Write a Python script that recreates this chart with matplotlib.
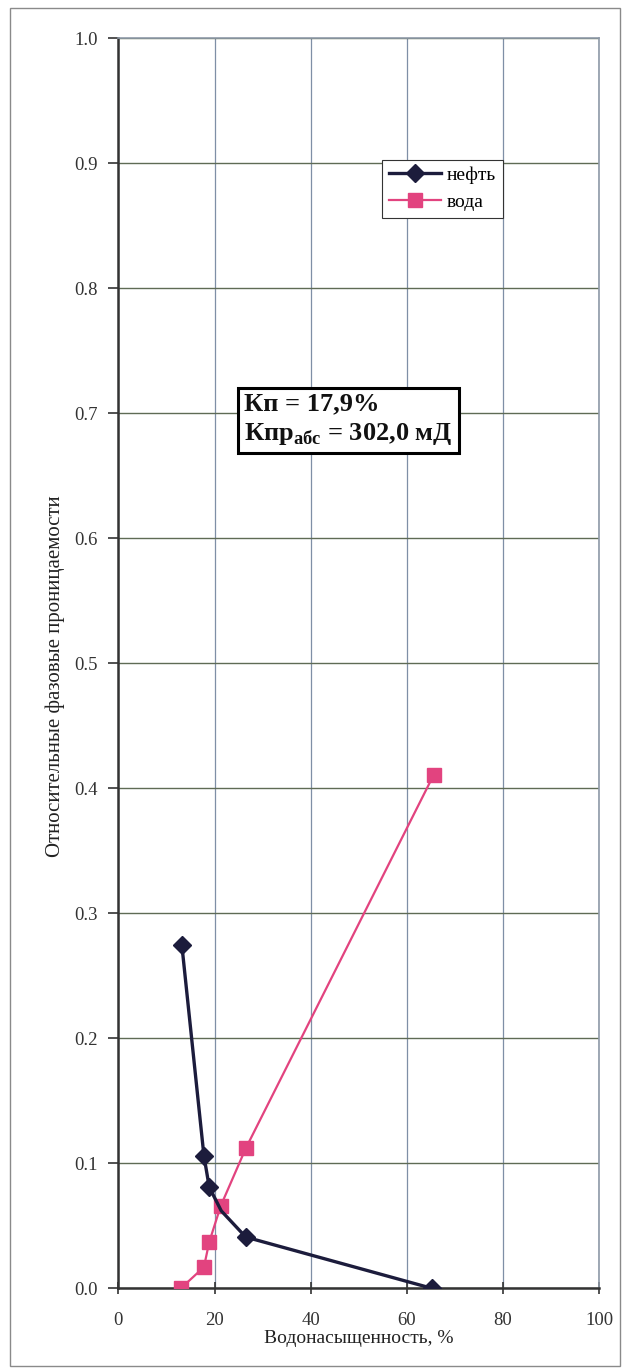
import matplotlib.pyplot as plt
from matplotlib.patches import Rectangle

plt.rcParams['font.family'] = ['Liberation Serif', 'DejaVu Serif']
plt.rcParams['mathtext.fontset'] = 'custom'
plt.rcParams['mathtext.rm'] = 'Liberation Serif:bold'
plt.rcParams['mathtext.bf'] = 'Liberation Serif:bold'

# data
oil_sw = [13.2, 17.8, 18.9, 21.4, 26.5, 65.2]
oil_kr = [0.275, 0.106, 0.081, 0.062, 0.041, 0.0]
water_sw = [13.0, 17.8, 18.9, 21.3, 26.5, 65.6]
water_kr = [0.0, 0.017, 0.037, 0.066, 0.112, 0.411]
oil_marked = [0, 1, 2, 4, 5]

x_ticks = [0, 20, 40, 60, 80, 100]
y_ticks = [0.0, 0.1, 0.2, 0.3, 0.4, 0.5, 0.6, 0.7, 0.8, 0.9, 1.0]

oil_color = '#1c1c3c'
water_color = '#e2437f'

fig = plt.figure(figsize=(6.25, 13.71), dpi=100)
ax = fig.add_axes([0.1893, 0.0603, 0.7696, 0.9118])

# outer frame around the whole chart
fig.patches.append(Rectangle((0.016, 0.004), 0.976, 0.99, transform=fig.transFigure,
                             fill=False, edgecolor='#8a8a8a', linewidth=1.0))

ax.plot(oil_sw, oil_kr, color=oil_color, linewidth=2.4, marker='D', markersize=9,
        markevery=oil_marked, label='нефть', zorder=4)
ax.plot(water_sw, water_kr, color=water_color, linewidth=1.6, marker='s', markersize=10,
        label='вода', zorder=3)

ax.set_xlim(0, 100)
ax.set_ylim(0, 1.0)
ax.set_xticks(x_ticks)
ax.set_yticks(y_ticks)
ax.set_yticklabels([f'{v:.1f}' for v in y_ticks])
ax.tick_params(labelsize=13.5, width=1.2, colors='#333333')
ax.tick_params(axis='y', direction='out', length=7, pad=8)
ax.tick_params(axis='x', direction='inout', length=8, pad=13)

ax.xaxis.grid(True, color='#7f8fa6', linewidth=0.9)
ax.yaxis.grid(True, color='#5f6b55', linewidth=1.0)
ax.set_axisbelow(True)

for side in ['left', 'bottom']:
    ax.spines[side].set_color('#333333')
    ax.spines[side].set_linewidth(1.8)
for side in ['top', 'right']:
    ax.spines[side].set_color('#8f9aa8')
    ax.spines[side].set_linewidth(1.2)

ax.set_xlabel('Водонасыщенность, %', fontsize=14, labelpad=1, color='#222222')
ax.set_ylabel('Относительные фазовые проницаемости', fontsize=15, color='#222222')
ax.yaxis.set_label_coords(-0.11, 0.49)

leg = ax.legend(loc='upper left', bbox_to_anchor=(0.548, 0.903), fontsize=14,
                fancybox=False, framealpha=1, edgecolor='#333333', handlelength=2.7,
                handletextpad=0.3, borderpad=0.35, labelspacing=0.5, borderaxespad=0)
leg.get_frame().set_linewidth(0.8)

ax.text(0.262, 0.695, 'Кп = 17,9%\nКпр$_{\\mathrm{абс}}$ = 302,0 мД',
        transform=ax.transAxes, fontsize=19, fontweight='bold', va='center', ha='left',
        linespacing=1.3, zorder=6, color='#111111',
        bbox=dict(boxstyle='square,pad=0.25', facecolor='white', edgecolor='black', linewidth=2.2))

fig.savefig('out.png', dpi=100)
